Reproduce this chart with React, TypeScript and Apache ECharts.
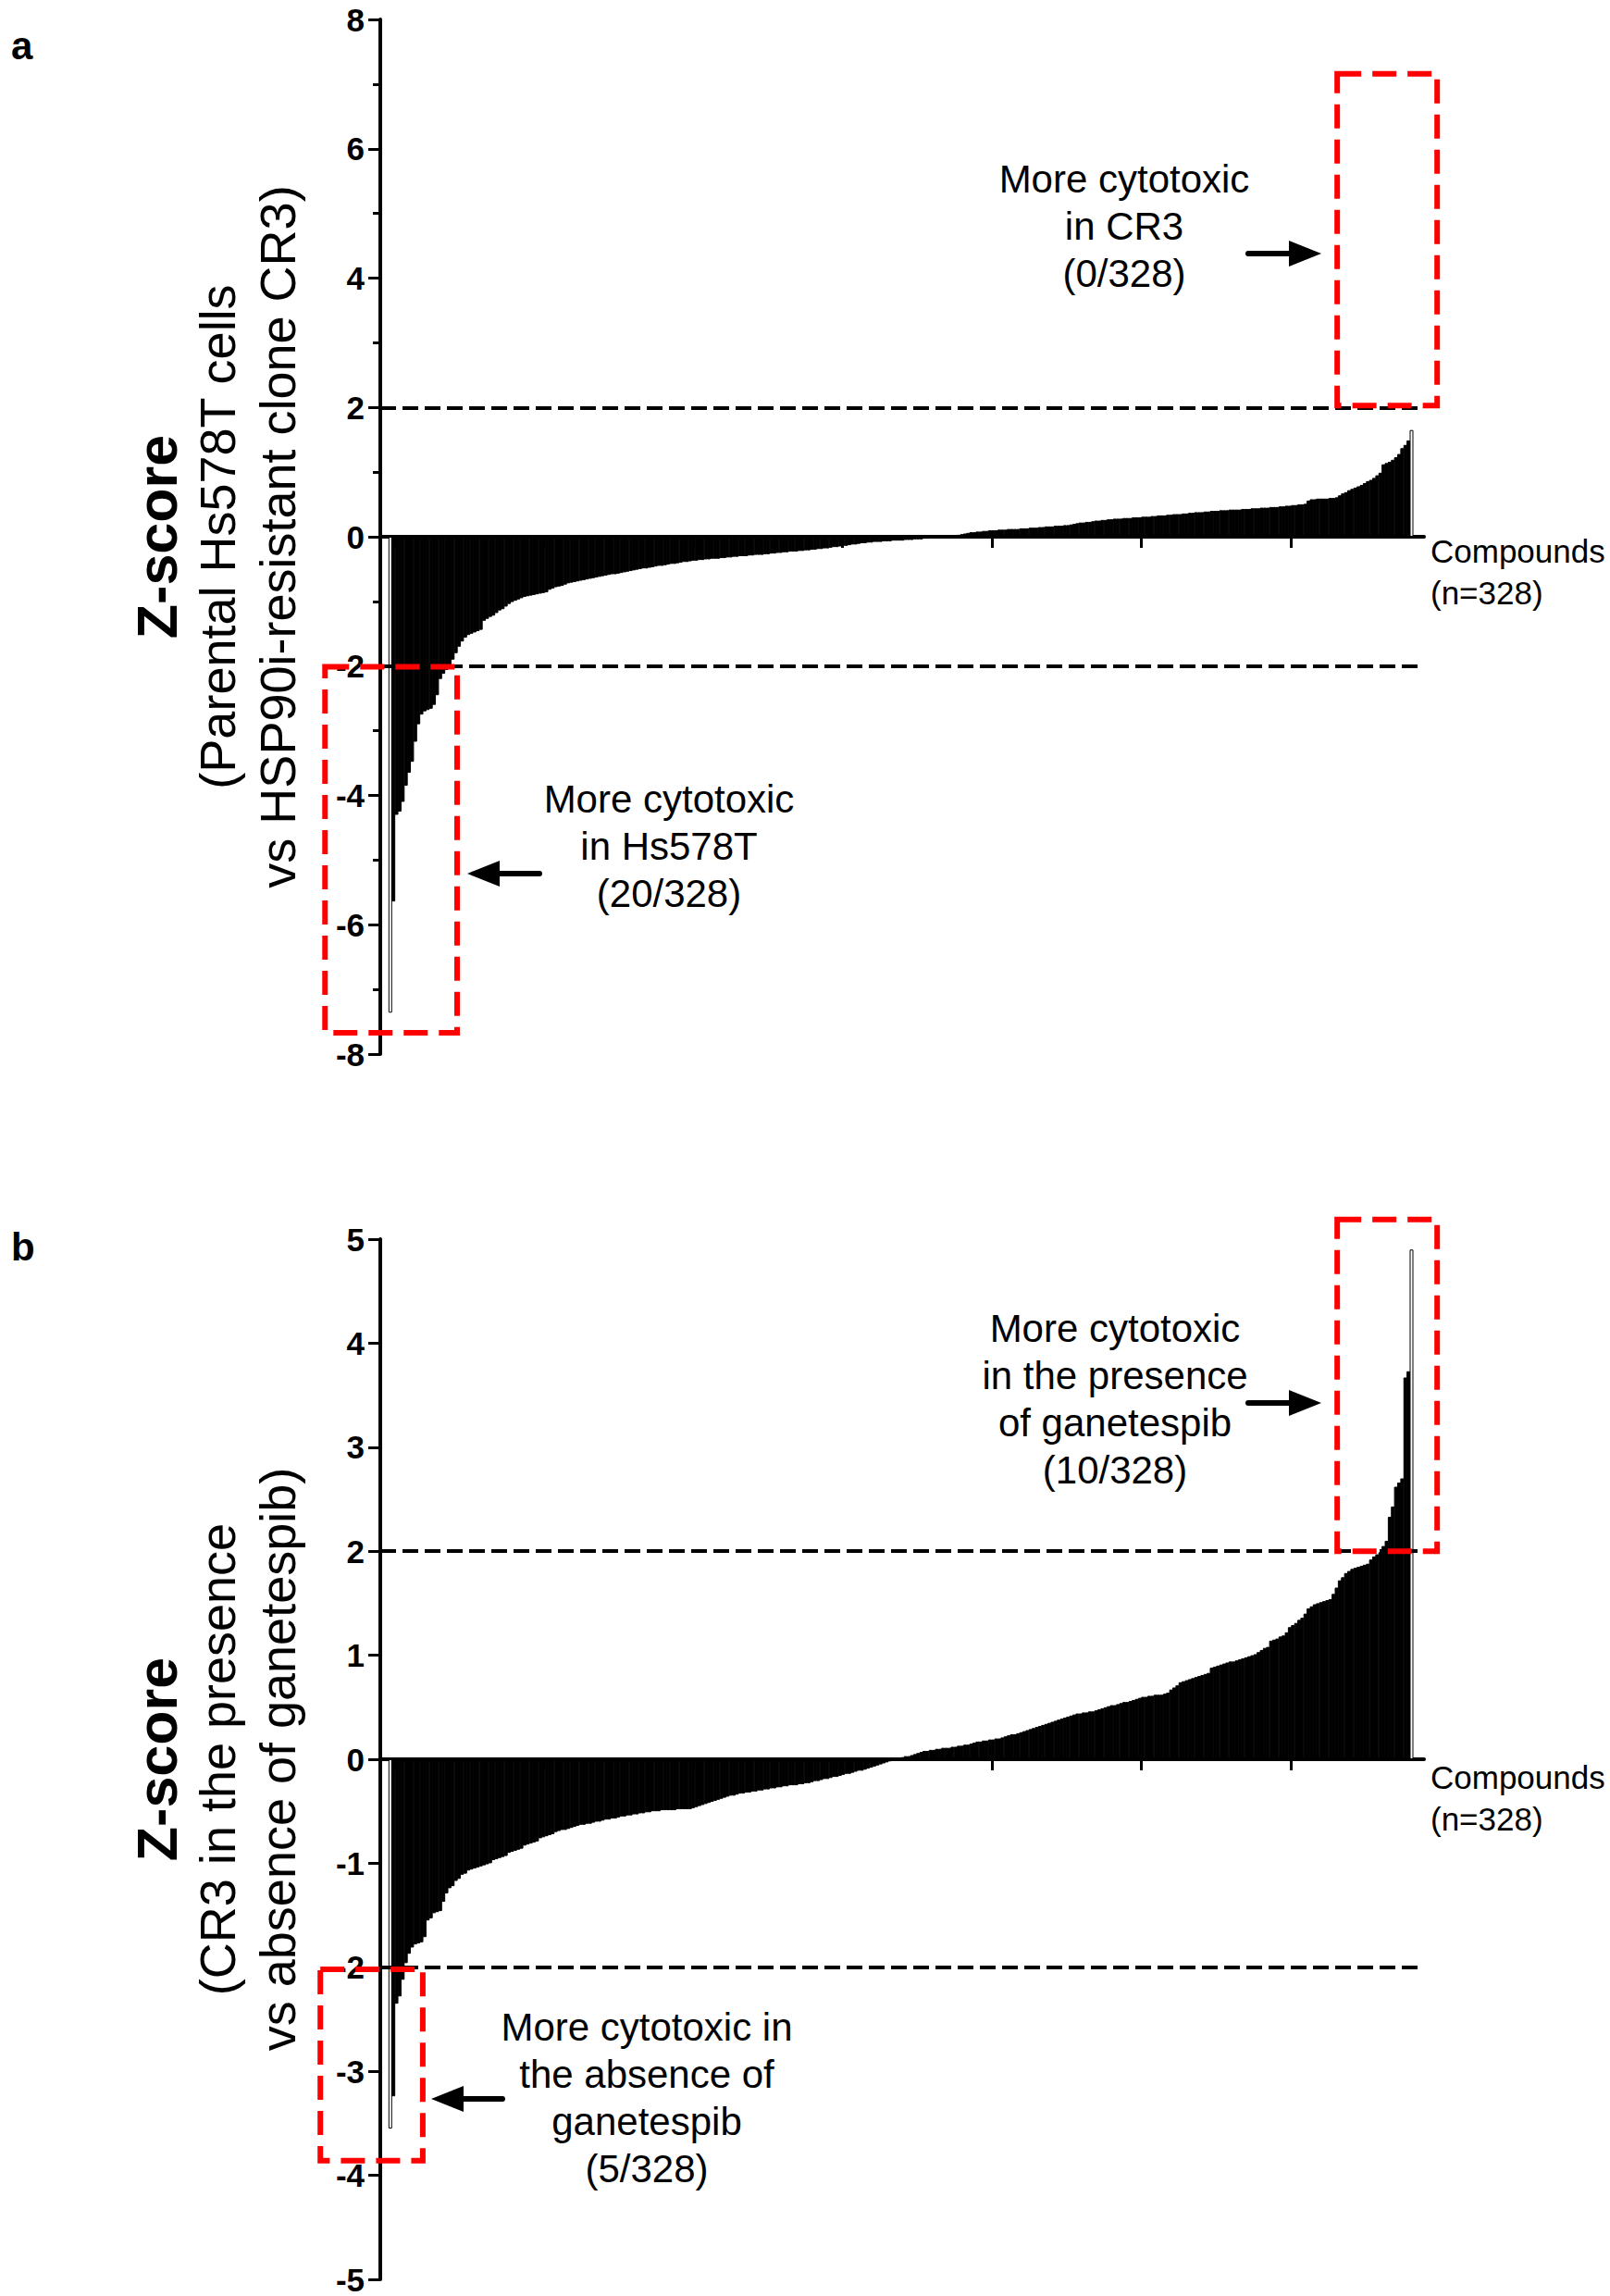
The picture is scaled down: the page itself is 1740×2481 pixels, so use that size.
import React, { useEffect, useRef } from "react";
import * as echarts from "echarts";

// Sorted Z-scores of the 328 compounds, panel a (Parental Hs578T vs CR3)
const PANEL_A_Z = [
  -7.36, -5.64, -4.30, -4.25, -4.10, -3.85, -3.65, -3.48, -3.17, -2.90,
  -2.75, -2.70, -2.68, -2.66, -2.60, -2.45, -2.20, -2.12, -2.06, -2.02,
  -1.90, -1.80, -1.70, -1.62, -1.56, -1.52, -1.50, -1.48, -1.46, -1.44,
  -1.30, -1.27, -1.24, -1.22, -1.18, -1.14, -1.12, -1.08, -1.04, -1.01,
  -0.99, -0.97, -0.95, -0.93, -0.92, -0.91, -0.90, -0.89, -0.88, -0.87,
  -0.86, -0.82, -0.80, -0.78, -0.77, -0.76, -0.74, -0.72, -0.71, -0.70,
  -0.69, -0.68, -0.67, -0.66, -0.65, -0.64, -0.63, -0.62, -0.61, -0.60,
  -0.59, -0.58, -0.58, -0.57, -0.56, -0.55, -0.54, -0.53, -0.52, -0.51,
  -0.50, -0.49, -0.49, -0.48, -0.47, -0.46, -0.45, -0.45, -0.44, -0.43,
  -0.42, -0.42, -0.41, -0.40, -0.39, -0.39, -0.38, -0.37, -0.37, -0.36,
  -0.36, -0.35, -0.35, -0.34, -0.34, -0.34, -0.33, -0.33, -0.32, -0.32,
  -0.31, -0.31, -0.30, -0.30, -0.30, -0.29, -0.29, -0.28, -0.28, -0.28,
  -0.27, -0.27, -0.26, -0.26, -0.25, -0.25, -0.24, -0.24, -0.23, -0.23,
  -0.23, -0.22, -0.22, -0.21, -0.21, -0.20, -0.20, -0.19, -0.19, -0.18,
  -0.18, -0.17, -0.16, -0.16, -0.15, -0.14, -0.14, -0.13, -0.12, -0.12,
  -0.11, -0.10, -0.10, -0.09, -0.09, -0.08, -0.08, -0.08, -0.07, -0.07,
  -0.07, -0.06, -0.06, -0.06, -0.06, -0.05, -0.05, -0.05, -0.04, -0.04,
  -0.04, -0.03, -0.03, -0.02, -0.02, -0.01, -0.01, -0.01, 0.00, 0.01,
  0.01, 0.02, 0.03, 0.04, 0.05, 0.06, 0.07, 0.07, 0.08, 0.08,
  0.09, 0.09, 0.10, 0.10, 0.10, 0.11, 0.11, 0.11, 0.12, 0.12,
  0.12, 0.12, 0.13, 0.13, 0.13, 0.14, 0.14, 0.14, 0.15, 0.15,
  0.16, 0.16, 0.16, 0.17, 0.17, 0.17, 0.18, 0.18, 0.19, 0.20,
  0.21, 0.22, 0.22, 0.23, 0.23, 0.24, 0.25, 0.25, 0.26, 0.26,
  0.27, 0.27, 0.28, 0.28, 0.28, 0.29, 0.29, 0.29, 0.30, 0.30,
  0.30, 0.31, 0.31, 0.31, 0.32, 0.32, 0.33, 0.33, 0.33, 0.34,
  0.34, 0.35, 0.35, 0.35, 0.36, 0.36, 0.37, 0.37, 0.38, 0.38,
  0.38, 0.39, 0.39, 0.40, 0.40, 0.40, 0.41, 0.41, 0.41, 0.42,
  0.42, 0.42, 0.42, 0.43, 0.43, 0.43, 0.44, 0.44, 0.44, 0.45,
  0.45, 0.45, 0.46, 0.46, 0.46, 0.47, 0.47, 0.48, 0.48, 0.49,
  0.49, 0.50, 0.50, 0.51, 0.56, 0.58, 0.58, 0.59, 0.59, 0.59,
  0.59, 0.60, 0.60, 0.61, 0.64, 0.67, 0.69, 0.72, 0.74, 0.76,
  0.78, 0.80, 0.83, 0.86, 0.88, 0.91, 0.95, 0.99, 1.12, 1.14,
  1.16, 1.19, 1.23, 1.28, 1.37, 1.42, 1.49, 1.65,
];

// Sorted Z-scores, panel b (CR3 with vs without ganetespib)
const PANEL_B_Z = [
  -3.55, -3.24, -2.35, -2.28, -2.12, -1.96, -1.87, -1.81, -1.78, -1.77,
  -1.76, -1.71, -1.55, -1.53, -1.48, -1.47, -1.46, -1.37, -1.29, -1.24,
  -1.22, -1.17, -1.15, -1.11, -1.10, -1.07, -1.06, -1.05, -1.04, -1.03,
  -1.02, -1.01, -1.00, -0.97, -0.96, -0.95, -0.94, -0.93, -0.90, -0.89,
  -0.88, -0.87, -0.86, -0.83, -0.82, -0.81, -0.80, -0.79, -0.76, -0.75,
  -0.74, -0.73, -0.72, -0.70, -0.69, -0.68, -0.68, -0.67, -0.66, -0.65,
  -0.64, -0.63, -0.63, -0.62, -0.62, -0.61, -0.60, -0.60, -0.59, -0.58,
  -0.58, -0.57, -0.57, -0.56, -0.55, -0.55, -0.54, -0.54, -0.53, -0.53,
  -0.52, -0.52, -0.51, -0.51, -0.50, -0.50, -0.50, -0.49, -0.49, -0.49,
  -0.49, -0.49, -0.48, -0.48, -0.48, -0.48, -0.48, -0.47, -0.46, -0.45,
  -0.44, -0.43, -0.42, -0.41, -0.40, -0.39, -0.38, -0.37, -0.36, -0.35,
  -0.35, -0.34, -0.33, -0.33, -0.32, -0.32, -0.31, -0.31, -0.30, -0.30,
  -0.29, -0.29, -0.28, -0.28, -0.27, -0.27, -0.26, -0.26, -0.25, -0.25,
  -0.25, -0.24, -0.24, -0.23, -0.23, -0.22, -0.21, -0.21, -0.20, -0.19,
  -0.19, -0.18, -0.17, -0.17, -0.16, -0.15, -0.14, -0.14, -0.13, -0.12,
  -0.11, -0.11, -0.10, -0.09, -0.08, -0.07, -0.06, -0.05, -0.04, -0.03,
  -0.02, -0.01, 0.00, 0.01, 0.02, 0.03, 0.03, 0.04, 0.05, 0.06,
  0.07, 0.08, 0.08, 0.09, 0.09, 0.10, 0.10, 0.11, 0.11, 0.11,
  0.12, 0.12, 0.13, 0.13, 0.14, 0.14, 0.15, 0.16, 0.17, 0.17,
  0.18, 0.18, 0.19, 0.19, 0.20, 0.20, 0.21, 0.22, 0.23, 0.24,
  0.24, 0.25, 0.26, 0.27, 0.28, 0.29, 0.30, 0.31, 0.32, 0.33,
  0.34, 0.35, 0.36, 0.37, 0.38, 0.39, 0.40, 0.41, 0.42, 0.43,
  0.44, 0.44, 0.45, 0.45, 0.46, 0.46, 0.47, 0.48, 0.49, 0.50,
  0.51, 0.52, 0.52, 0.53, 0.54, 0.55, 0.55, 0.56, 0.57, 0.58,
  0.59, 0.60, 0.60, 0.61, 0.61, 0.62, 0.62, 0.62, 0.63, 0.64,
  0.67, 0.69, 0.71, 0.74, 0.75, 0.76, 0.77, 0.78, 0.79, 0.80,
  0.81, 0.82, 0.83, 0.88, 0.89, 0.90, 0.91, 0.92, 0.93, 0.94,
  0.94, 0.95, 0.96, 0.97, 0.98, 0.99, 1.00, 1.01, 1.03, 1.05,
  1.07, 1.08, 1.14, 1.15, 1.16, 1.18, 1.19, 1.22, 1.27, 1.29,
  1.31, 1.34, 1.36, 1.40, 1.45, 1.47, 1.49, 1.50, 1.51, 1.52,
  1.53, 1.54, 1.59, 1.65, 1.72, 1.75, 1.79, 1.81, 1.83, 1.84,
  1.85, 1.86, 1.87, 1.88, 1.92, 1.95, 1.97, 1.99, 2.05, 2.10,
  2.33, 2.43, 2.62, 2.66, 2.70, 3.67, 3.73, 4.90,
];

// Compound-rank axis (index of compound) and its tick marks
const X_RANGE = [-3.2, 331];
const X_TICKS = [1.3, 49.1, 97, 144.8, 192.7, 240.5, 288.4];

// Z-score axes
const A_Y_RANGE = [-8, 8];
const A_Y_INTERVAL = 2;
const B_Y_RANGE = [-5, 5];
const B_Y_INTERVAL = 1;
const THRESHOLDS = [2, -2];

// Highlight boxes in data units: [x0, y0, x1, y1]
const A_BOXES = [
  [303.2, 2.03, 335.2, 7.16],
  [-20.9, -2.01, 21.4, -7.67],
];
const B_BOXES = [
  [303.2, 2.0, 335.2, 5.19],
  [-22.4, -2.02, 10.4, -3.86],
];

// Texts
const A_TITLE = ["Z-score", "(Parental Hs578T cells", "vs HSP90i-resistant clone CR3)"];
const B_TITLE = ["Z-score", "(CR3 in the presence", "vs absence of ganetespib)"];
const A_NOTE_UP = "More cytotoxic\nin CR3\n(0/328)";
const A_NOTE_DOWN = "More cytotoxic\nin Hs578T\n(20/328)";
const B_NOTE_UP = "More cytotoxic\nin the presence\nof ganetespib\n(10/328)";
const B_NOTE_DOWN = "More cytotoxic in\nthe absence of\nganetespib\n(5/328)";
const X_NAME = "Compounds\n(n=328)";

const FONT = "'Liberation Sans', Arial, Helvetica, sans-serif";

const GRID_LEFT = 411;
const GRID_WIDTH = 1128;

export default function App() {
  const ref = useRef<HTMLDivElement>(null);

  useEffect(() => {
    const chart = echarts.init(ref.current!, null, { renderer: "svg" });
    const barPx = GRID_WIDTH / (X_RANGE[1] - X_RANGE[0]);

    const makeX = (gridIndex: number) => ({
      type: "value",
      gridIndex,
      min: X_RANGE[0],
      max: X_RANGE[1],
      axisLine: { show: true, onZero: true, lineStyle: { color: "#000", width: 4 } },
      axisTick: {
        show: true,
        customValues: X_TICKS,
        length: 12,
        lineStyle: { color: "#000", width: 3 },
      },
      axisLabel: { show: false },
      splitLine: { show: false },
    });

    const makeY = (gridIndex: number, range: number[], interval: number, minor: boolean) => ({
      type: "value",
      gridIndex,
      min: range[0],
      max: range[1],
      interval,
      axisLine: { show: true, onZero: false, lineStyle: { color: "#000", width: 4 } },
      axisTick: { show: true, length: 13, lineStyle: { color: "#000", width: 3 } },
      minorTick: {
        show: minor,
        splitNumber: 2,
        length: 8,
        lineStyle: { color: "#000", width: 3 },
      },
      axisLabel: {
        color: "#000",
        fontFamily: FONT,
        fontWeight: "bold",
        fontSize: 35,
        margin: 17,
      },
      splitLine: { show: false },
      minorSplitLine: { show: false },
    });

    const makeSeries = (idx: number, values: number[]) => ({
      type: "bar",
      xAxisIndex: idx,
      yAxisIndex: idx,
      data: values.map((v, i) => [i, v]),
      barWidth: barPx + 0.6,
      barGap: "0%",
      emphasis: { disabled: true },
      itemStyle: {
        color: (p: any) =>
          p.dataIndex === 0 || p.dataIndex === values.length - 1 ? "#fff" : "#000",
        borderColor: "#000",
        borderWidth: 1,
      },
      markLine: {
        silent: true,
        symbol: ["none", "none"],
        label: { show: false },
        lineStyle: { color: "#000", width: 4, type: [17, 7] },
        emphasis: { disabled: true },
        data: THRESHOLDS.map((t) => ({ yAxis: t })),
      },
    });

    chart.setOption({
      animation: false,
      backgroundColor: "#fff",
      grid: [
        { left: GRID_LEFT, width: GRID_WIDTH, top: 21, height: 1118 },
        { left: GRID_LEFT, width: GRID_WIDTH, top: 1339, height: 1124 },
      ],
      xAxis: [makeX(0), makeX(1)],
      yAxis: [
        makeY(0, A_Y_RANGE, A_Y_INTERVAL, true),
        makeY(1, B_Y_RANGE, B_Y_INTERVAL, false),
      ],
      series: [makeSeries(0, PANEL_A_Z), makeSeries(1, PANEL_B_Z)],
    });

    const boxes: any[] = [];
    const addBoxes = (g: number, list: number[][]) => {
      list.forEach((b) => {
        const p1 = chart.convertToPixel({ gridIndex: g } as any, [b[0], b[1]]) as number[];
        const p2 = chart.convertToPixel({ gridIndex: g } as any, [b[2], b[3]]) as number[];
        boxes.push({
          type: "rect",
          z: 100,
          silent: true,
          shape: {
            x: Math.min(p1[0], p2[0]),
            y: Math.min(p1[1], p2[1]),
            width: Math.abs(p2[0] - p1[0]),
            height: Math.abs(p2[1] - p1[1]),
          },
          style: { fill: "transparent", stroke: "#ff0000", lineWidth: 6, lineDash: [26, 12] },
        });
      });
    };
    addBoxes(0, A_BOXES);
    addBoxes(1, B_BOXES);

    const text = (x: number, y: number, t: string, size: number, opts: any = {}) => ({
      type: "text",
      x,
      y,
      z: 50,
      silent: true,
      rotation: opts.rotation || 0,
      style: {
        text: t,
        fill: "#000",
        fontFamily: FONT,
        fontSize: size,
        fontWeight: opts.bold ? "bold" : "normal",
        align: opts.align || "center",
        textAlign: opts.align || "center",
        verticalAlign: "middle",
        textVerticalAlign: "middle",
        lineHeight: opts.lineHeight || size * 1.2,
      },
    });

    const arrow = (x1: number, x2: number, y: number) => {
      const dir = x2 > x1 ? 1 : -1;
      const headLen = 35;
      const headHalf = 14;
      const base = x2 - dir * headLen;
      return [
        {
          type: "line",
          z: 50,
          silent: true,
          shape: { x1, y1: y, x2: base + dir * 2, y2: y },
          style: { stroke: "#000", lineWidth: 6, lineCap: "round" },
        },
        {
          type: "polygon",
          z: 50,
          silent: true,
          shape: { points: [[x2, y], [base, y - headHalf], [base, y + headHalf]] },
          style: { fill: "#000" },
        },
      ];
    };

    const rot = Math.PI / 2;
    const graphics: any[] = [
      text(12, 49, "a", 42, { bold: true, align: "left" }),
      text(12, 1347, "b", 42, { bold: true, align: "left" }),
      text(170, 580, A_TITLE[0], 61, { bold: true, rotation: rot }),
      text(235, 580, A_TITLE[1], 54, { rotation: rot }),
      text(300, 580, A_TITLE[2], 54, { rotation: rot }),
      text(170, 1901, B_TITLE[0], 61, { bold: true, rotation: rot }),
      text(235, 1901, B_TITLE[1], 54, { rotation: rot }),
      text(300, 1901, B_TITLE[2], 54, { rotation: rot }),
      text(1215, 244, A_NOTE_UP, 42, { lineHeight: 51 }),
      text(723, 914, A_NOTE_DOWN, 42, { lineHeight: 51 }),
      text(1205, 1512, B_NOTE_UP, 42, { lineHeight: 51 }),
      text(699, 2267, B_NOTE_DOWN, 42, { lineHeight: 51 }),
      text(1546, 618, X_NAME, 35, { align: "left", lineHeight: 45 }),
      text(1546, 1943, X_NAME, 35, { align: "left", lineHeight: 45 }),
      ...arrow(1349, 1428, 274),
      ...arrow(583, 505, 944),
      ...arrow(1349, 1428, 1516),
      ...arrow(543, 466, 2268),
      ...boxes,
    ];

    chart.setOption({ graphic: graphics });

    return () => {
      chart.dispose();
    };
  }, []);

  return (
    <div
      ref={ref}
      style={{ position: "absolute", left: 0, top: 0, width: 1740, height: 2481 }}
    />
  );
}
